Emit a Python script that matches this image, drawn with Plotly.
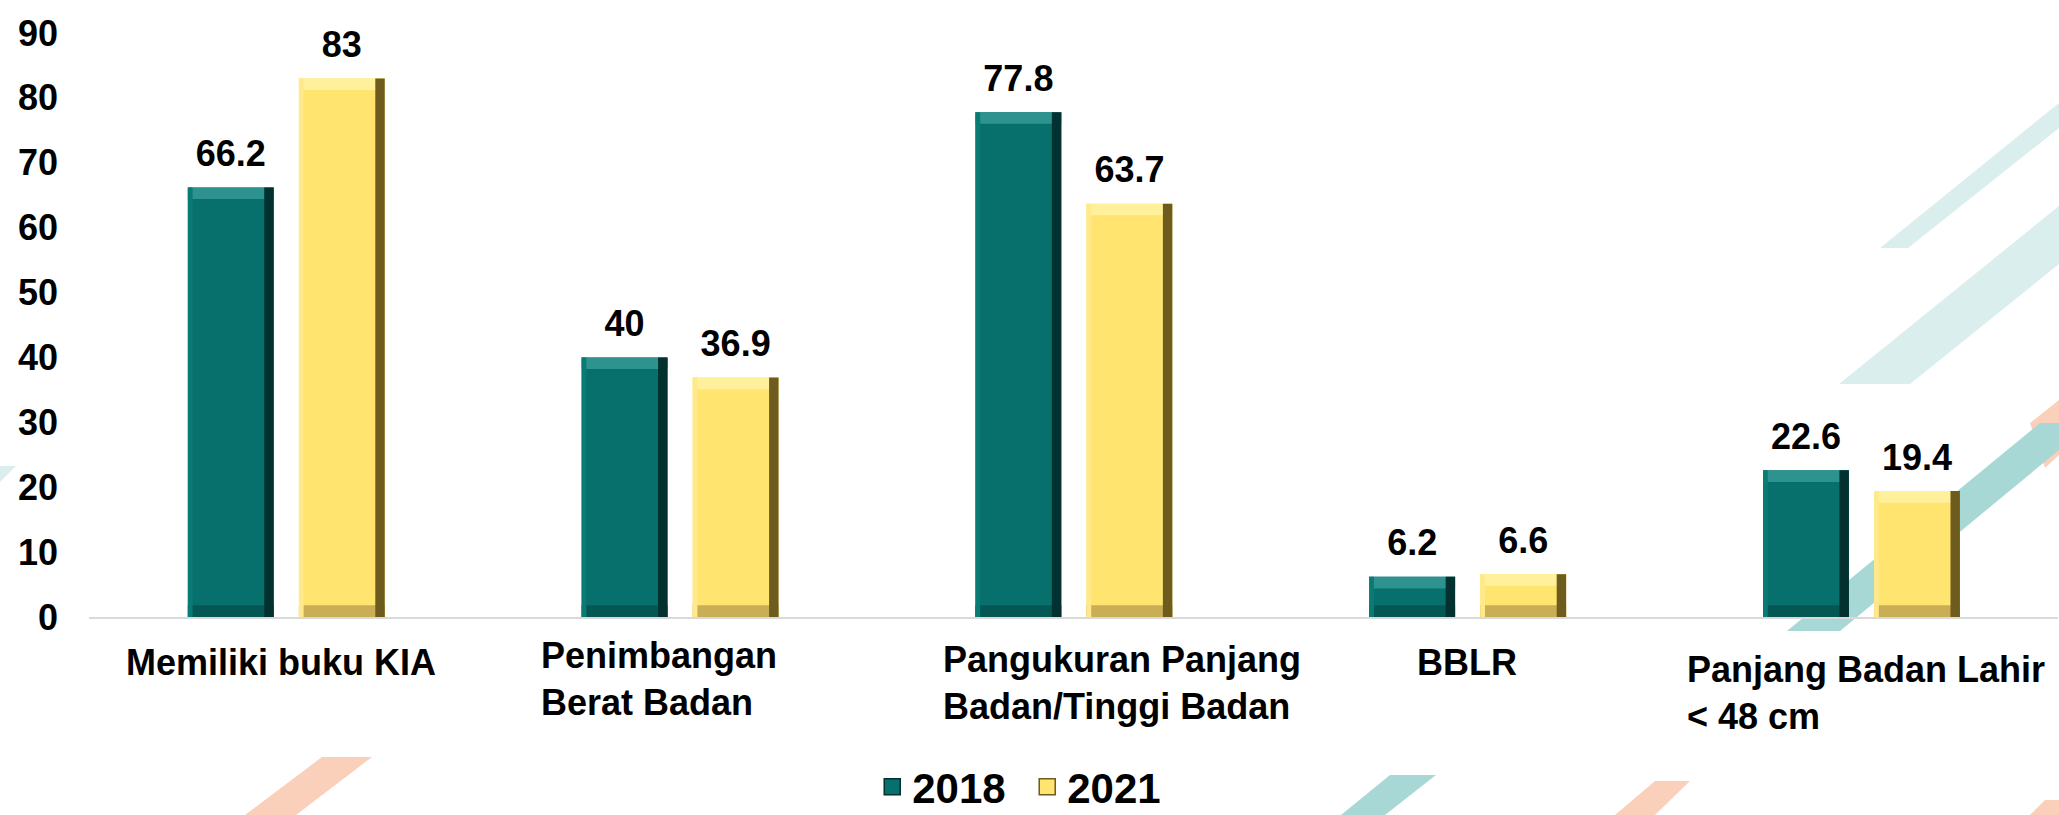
import plotly.graph_objects as go

# ---------------- data ----------------
categories = [
    "Memiliki buku KIA",
    "Penimbangan Berat Badan",
    "Pangukuran Panjang Badan/Tinggi Badan",
    "BBLR",
    "Panjang Badan Lahir < 48 cm",
]
category_labels = [
    "Memiliki buku KIA",
    "Penimbangan<br>Berat Badan",
    "Pangukuran Panjang<br>Badan/Tinggi Badan",
    "BBLR",
    "Panjang Badan Lahir<br>< 48 cm",
]
series_names = ["2018", "2021"]
values_2018 = [66.2, 40, 77.8, 6.2, 22.6]
values_2021 = [83, 36.9, 63.7, 6.6, 19.4]
y_ticks = [0, 10, 20, 30, 40, 50, 60, 70, 80, 90]

# ---------------- layout constants ----------------
W, H = 2059, 815
ML, MR, MT, MB = 89, 1, 33, 198
PW, PH = W - ML - MR, H - MT - MB
FONT = "Liberation Sans, Arial, sans-serif"

BAR_W = 0.218
OFFSETS = [-0.249, 0.033]
BEVEL_Y = 1.8          # data units (~12px)
BEVEL_X = 0.024        # category units (~9px)
LABEL_PAD = 1.6        # extra space between bar top and value label (data units)

styles = [
    dict(main="#07706C", top="#2E938E", bottom="#045753", right="#02312F", left="#0A7A75"),
    dict(main="#FFE46F", top="#FFF19C", bottom="#C9AE55", right="#6E5B1E", left="#FFE98A"),
]

fig = go.Figure()

for vals, off, st, name in zip([values_2018, values_2021], OFFSETS, styles, series_names):
    n = len(vals)
    # main bar
    fig.add_trace(go.Bar(
        x=categories, y=vals, name=name, offset=off, width=BAR_W,
        marker=dict(color=st["main"], line=dict(width=0)),
        showlegend=False,
        hovertemplate="%{x}<br>" + name + ": %{y}<extra></extra>",
    ))
    # bevel: top highlight
    fig.add_trace(go.Bar(
        x=categories, y=[BEVEL_Y] * n, base=[v - BEVEL_Y for v in vals],
        offset=off, width=BAR_W, marker=dict(color=st["top"], line=dict(width=0)),
        showlegend=False, hoverinfo="skip",
    ))
    # bevel: bottom shadow
    fig.add_trace(go.Bar(
        x=categories, y=[BEVEL_Y] * n, base=[0] * n,
        offset=off, width=BAR_W, marker=dict(color=st["bottom"], line=dict(width=0)),
        showlegend=False, hoverinfo="skip",
    ))
    # bevel: right shadow
    fig.add_trace(go.Bar(
        x=categories, y=vals, offset=off + BAR_W - BEVEL_X, width=BEVEL_X,
        marker=dict(color=st["right"], line=dict(width=0)),
        showlegend=False, hoverinfo="skip",
    ))
    # bevel: left light edge
    fig.add_trace(go.Bar(
        x=categories, y=vals, offset=off, width=BEVEL_X * 0.5,
        marker=dict(color=st["left"], line=dict(width=0)),
        showlegend=False, hoverinfo="skip",
    ))
    # value labels (transparent carrier bar, slightly taller, text outside)
    fig.add_trace(go.Bar(
        x=categories, y=[v + LABEL_PAD for v in vals], offset=off, width=BAR_W,
        text=vals, texttemplate="%{text}", textposition="outside",
        constraintext="none", cliponaxis=False,
        textfont=dict(family=FONT, size=36, color="black", weight="bold"),
        marker=dict(color="rgba(0,0,0,0)", line=dict(width=0)),
        showlegend=False, hoverinfo="skip",
    ))

# legend entries
for st, name in zip(styles, series_names):
    fig.add_trace(go.Scatter(
        x=[None], y=[None], mode="markers", name=name,
        marker=dict(symbol="square", size=22, color=st["main"],
                    line=dict(color=st["right"], width=1.5)),
        hoverinfo="skip",
    ))


# ---------------- decorative background stripes ----------------
def poly(points):
    pts = [((x - ML) / PW, (H - MB - y) / PH) for x, y in points]
    return "M " + " L ".join(f"{a:.5f},{b:.5f}" for a, b in pts) + " Z"


LIGHT_TEAL = "rgb(217,238,237)"
MID_TEAL = "rgb(168,216,214)"
SALMON = "rgb(251,208,187)"
stripes = [
    (LIGHT_TEAL, [(1880, 248), (1908, 248), (2059, 128), (2059, 103)]),
    (LIGHT_TEAL, [(1839, 384), (1910, 384), (2059, 264), (2059, 206)]),
    (SALMON, [(2030, 423), (2059, 400), (2059, 455), (2045, 468)]),
    (MID_TEAL, [(1787, 631), (1840, 631), (2059, 450), (2059, 423), (2040, 423)]),
    (LIGHT_TEAL, [(0, 466), (16, 466), (0, 482)]),
    (SALMON, [(322, 757), (372, 757), (296, 815), (245, 815)]),
    (MID_TEAL, [(1390, 775), (1436, 775), (1385, 815), (1341, 815)]),
    (SALMON, [(1655, 781), (1690, 781), (1655, 815), (1615, 815)]),
    (SALMON, [(2045, 800), (2059, 800), (2059, 815), (2030, 815)]),
]
shapes = [
    dict(type="path", xref="paper", yref="paper", path=poly(p),
         fillcolor=c, line=dict(width=0), layer="below")
    for c, p in stripes
]

# ---------------- category labels ----------------
label_pos = [  # (xanchor, xshift, yshift)
    ("center", -5, -23),
    ("left", -141, -16),
    ("left", -133, -20),
    ("center", 0, -23),
    ("left", -176, -30),
]
annotations = []
for cat, lab, (xa, xs, ys) in zip(categories, category_labels, label_pos):
    annotations.append(dict(
        x=cat, xref="x", y=0, yref="paper", yanchor="top", xanchor=xa,
        xshift=xs, yshift=ys, text=lab, showarrow=False, align="left",
        font=dict(family=FONT, size=36, color="black", weight="bold"),
    ))

fig.update_layout(
    width=W, height=H,
    margin=dict(l=ML, r=MR, t=MT, b=MB, autoexpand=False),
    barmode="overlay",
    paper_bgcolor="white", plot_bgcolor="rgba(0,0,0,0)",
    font=dict(family=FONT, color="black"),
    shapes=shapes, annotations=annotations,
    showlegend=True,
    legend=dict(
        orientation="h", x=0.4765, xanchor="center", y=-0.291, yanchor="middle",
        font=dict(family=FONT, size=42, color="black", weight="bold"),
        bgcolor="rgba(0,0,0,0)", itemsizing="trace", tracegroupgap=0,
        entrywidth=110, entrywidthmode="pixels",
    ),
    xaxis=dict(
        type="category", categoryorder="array", categoryarray=categories,
        range=[-0.5, len(categories) - 0.5], showticklabels=False,
        showgrid=False, zeroline=False, showline=True,
        linecolor="#D9D9D9", linewidth=2, ticks="", fixedrange=True,
    ),
    yaxis=dict(
        range=[0, 90], tickvals=y_ticks, showgrid=False, zeroline=False,
        showline=False, ticks="", ticklabelstandoff=30,
        tickfont=dict(family=FONT, size=36, color="black", weight="bold"),
        fixedrange=True,
    ),
)

fig.write_html(
    "out.html",
    config={"displayModeBar": False},
    post_script="document.body.style.margin='0px';document.body.style.overflow='hidden';",
)
